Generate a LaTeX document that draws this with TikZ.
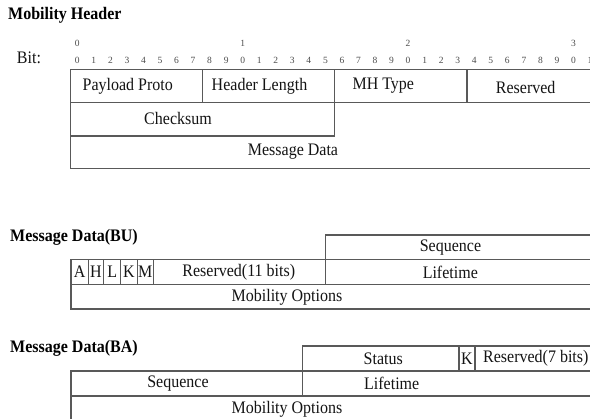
\documentclass[tikz,border=0pt]{standalone}
\usepackage{fontspec}
\usepackage{graphicx}
\setmainfont{Liberation Serif}
\newcommand\tx[1]{\scalebox{1}[1.1]{#1}}
\begin{document}
\begin{tikzpicture}[x=1pt,y=-1pt,
  grid/.style={draw=black!65, line width=1.1pt},
  lbl/.style={inner sep=0pt, text=black!92, font=\fontsize{16}{16}\selectfont},
  ttl/.style={inner sep=0pt, anchor=west, text=black, font=\fontsize{16}{16}\selectfont\bfseries},
  bitno/.style={inner sep=0pt, text=black!70, font=\fontsize{9.5}{9.5}\selectfont}]
\clip (0,0) rectangle (590,419);
\fill[white] (0,0) rectangle (590,419);

% ---------- Mobility Header ----------
\node[ttl] (t1) at (8,15) {\tx{Mobility Header}};
\node[lbl] (bit) at (29,58) {\tx{Bit:}};
\foreach \i in {0,...,31}{
  \pgfmathtruncatemacro\d{mod(\i,10)}
  \node[bitno] (b\i) at ({77.3+16.54*\i},60) {\d};
}
\foreach \k in {0,1,2,3}{
  \node[bitno] (u\k) at ({77.3+165.4*\k},43) {\k};
}
\draw[grid] (600,69.3) -| (70.7,168.3) -- (600,168.3);
\draw[grid] (70.7,102.7) -- (600,102.7);
\draw[grid] (334.3,69.3) -- (334.3,136) -- (70.7,136);
\draw[grid] (202.3,69.3) -- (202.3,102.7);
\draw[grid] (467,69.3) -- (467,102.7);
\node[lbl] (pp) at (127.8,86) {\tx{Payload Proto}};
\node[lbl] (hl) at (259.5,86) {\tx{Header Length}};
\node[lbl] (mh) at (383.3,86) {\tx{MH Type}};
\node[lbl] (rs) at (525.7,87) {\tx{Reserved}};
\node[lbl] (cs) at (178,118.5) {\tx{Checksum}};
\node[lbl] (md) at (293,151.5) {\tx{Message Data}};

% ---------- Message Data (BU) ----------
\node[ttl] (t2) at (10,237) {\tx{Message Data(BU)}};
\draw[grid] (600,235) -| (325.7,284.5);
\draw[grid] (600,259.5) -| (71,309) -- (600,309);
\draw[grid] (71,284.5) -- (600,284.5);
\foreach \x in {88.3,103.6,120.7,137.3,153.3}{
  \draw[grid] (\x,259.5) -- (\x,284.5);
}
\node[lbl] (fa) at (79.6,272) {\tx{A}};
\node[lbl] (fh) at (96,272) {\tx{H}};
\node[lbl] (fl) at (112.2,272) {\tx{L}};
\node[lbl] (fk) at (129,272) {\tx{K}};
\node[lbl] (fm) at (145.3,272) {\tx{M}};
\node[lbl] (r11) at (238.8,272.5) {\tx{Reserved(11 bits)}};
\node[lbl] (sq1) at (450.5,247.5) {\tx{Sequence}};
\node[lbl] (lt1) at (450.3,272) {\tx{Lifetime}};
\node[lbl] (mo1) at (287,297) {\tx{Mobility Options}};

% ---------- Message Data (BA) ----------
\node[ttl] (t3) at (10,348.5) {\tx{Message Data(BA)}};
\draw[grid] (600,346) -| (302.3,396);
\draw[grid] (600,371) -| (71,425);
\draw[grid] (71,396) -- (600,396);
\draw[grid] (459,346) -- (459,371);
\draw[grid] (475,346) -- (475,371);
\node[lbl] (st) at (383.3,358.5) {\tx{Status}};
\node[lbl] (kb) at (467,358.5) {\tx{K}};
\node[lbl] (r7) at (535.8,358.5) {\tx{Reserved(7 bits)}};
\node[lbl] (sq2) at (178,384) {\tx{Sequence}};
\node[lbl] (lt2) at (391.7,383.5) {\tx{Lifetime}};
\node[lbl] (mo2) at (287,409.5) {\tx{Mobility Options}};
\end{tikzpicture}
\end{document}
